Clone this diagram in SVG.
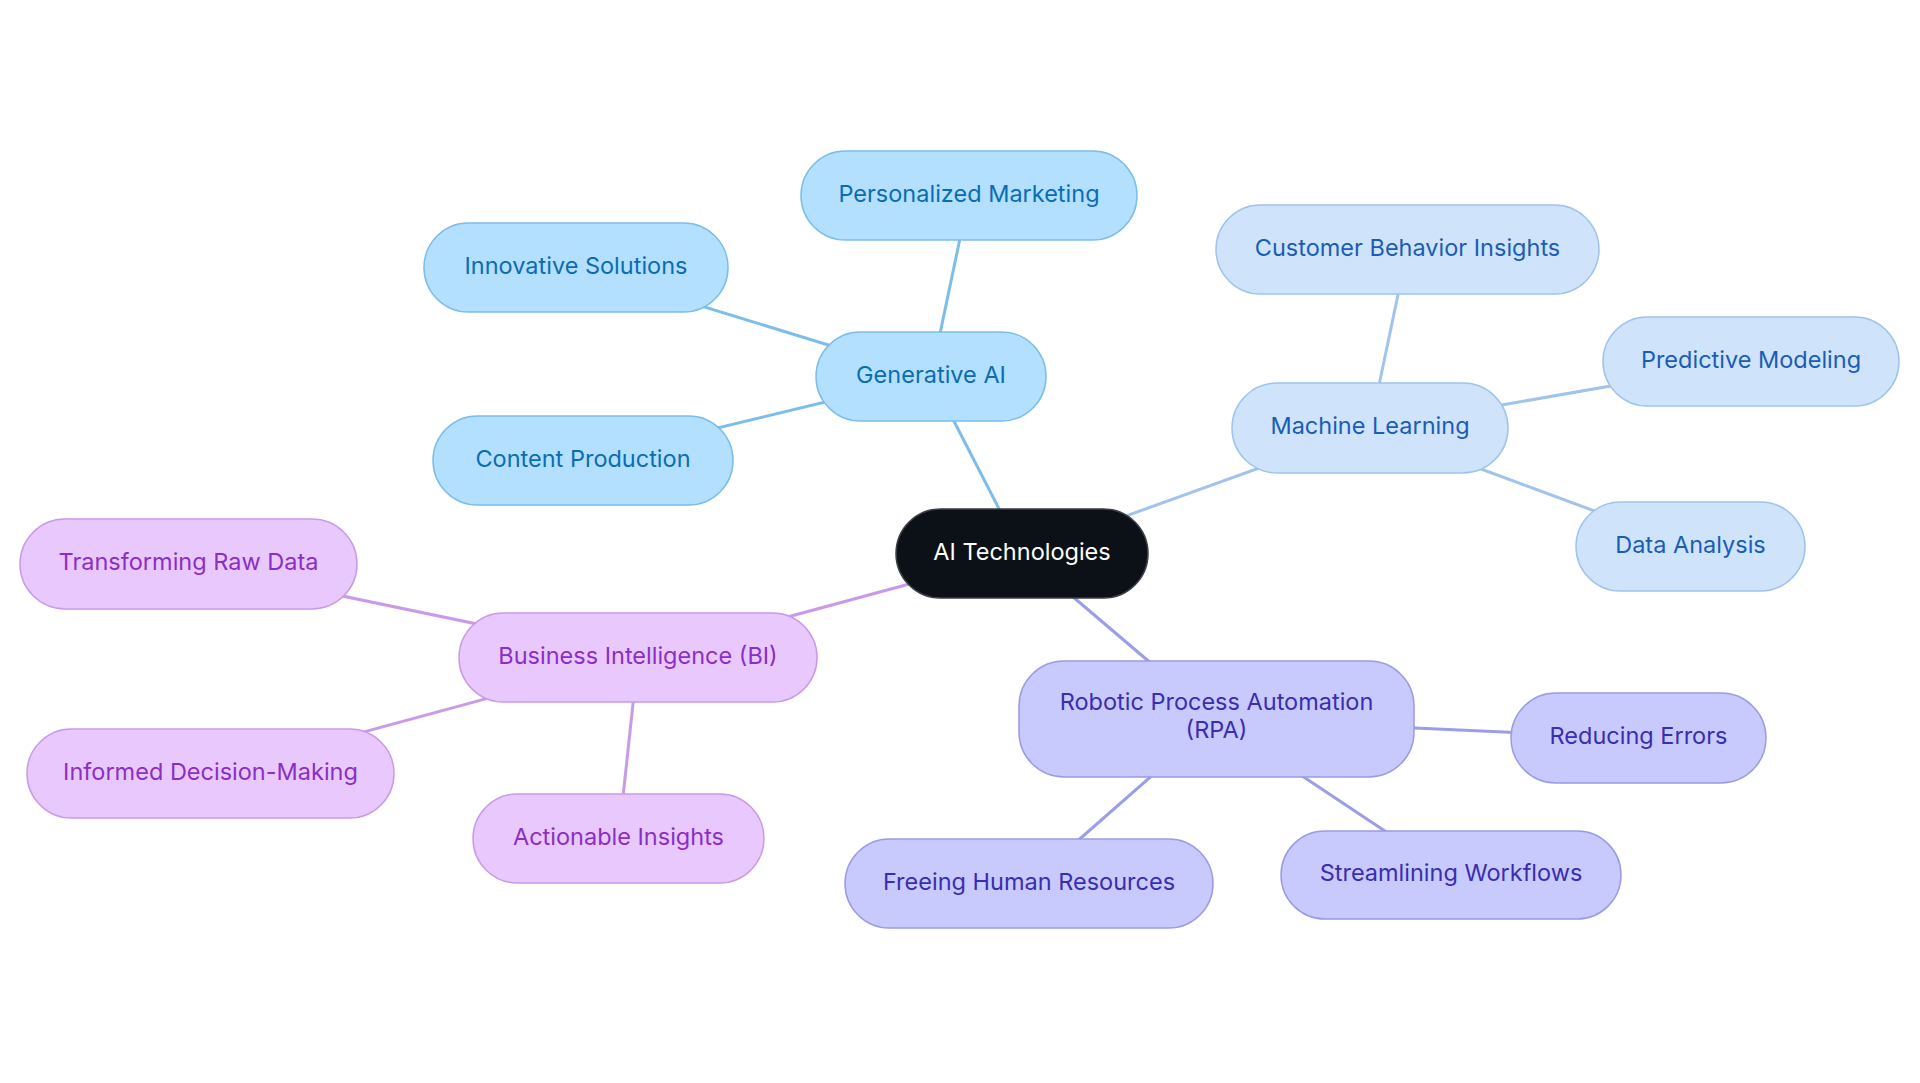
<svg xmlns="http://www.w3.org/2000/svg" width="1920" height="1083" viewBox="0 0 1920 1083">
<style>
text{font-family:Inter,"Open Sans","Liberation Sans",sans-serif;font-size:23.5px;text-anchor:middle;dominant-baseline:central}
.e{stroke-width:3;fill:none}
.gen rect{fill:#b3e0fe;stroke:#7cbdea;stroke-width:1.5}
.gen text{fill:#0b6cb3}
.ml rect{fill:#cfe4fb;stroke:#9ec4ec;stroke-width:1.5}
.ml text{fill:#1b5cb5}
.bi rect{fill:#e9c9fd;stroke:#c99ae9;stroke-width:1.5}
.bi text{fill:#8b2ec6}
.rpa rect{fill:#c8cafd;stroke:#9b9be6;stroke-width:1.5}
.rpa text{fill:#3a2db0}
</style>
<rect width="1920" height="1083" fill="#ffffff"/>
<g id="connectors">
<line class="e" stroke="#7cbdea" x1="1022" y1="553.5" x2="931" y2="376.5"/>
<line class="e" stroke="#a0c4ec" x1="1022" y1="553.5" x2="1370" y2="428"/>
<line class="e" stroke="#c99ae9" x1="1022" y1="553.5" x2="638" y2="657.5"/>
<line class="e" stroke="#9b9de8" x1="1022" y1="553.5" x2="1216.5" y2="719"/>
<line class="e" stroke="#7cbdea" x1="931" y1="376.5" x2="969" y2="195.5"/>
<line class="e" stroke="#7cbdea" x1="931" y1="376.5" x2="576" y2="267.5"/>
<line class="e" stroke="#7cbdea" x1="931" y1="376.5" x2="583" y2="460.5"/>
<line class="e" stroke="#a0c4ec" x1="1370" y1="428" x2="1407.5" y2="249.5"/>
<line class="e" stroke="#a0c4ec" x1="1370" y1="428" x2="1751" y2="361.5"/>
<line class="e" stroke="#a0c4ec" x1="1370" y1="428" x2="1690.5" y2="546.5"/>
<line class="e" stroke="#c99ae9" x1="638" y1="657.5" x2="188.5" y2="564"/>
<line class="e" stroke="#c99ae9" x1="638" y1="657.5" x2="210.5" y2="773.5"/>
<line class="e" stroke="#c99ae9" x1="638" y1="657.5" x2="618.5" y2="838.5"/>
<line class="e" stroke="#9b9de8" x1="1216.5" y1="719" x2="1638.5" y2="738"/>
<line class="e" stroke="#9b9de8" x1="1216.5" y1="719" x2="1029" y2="883.5"/>
<line class="e" stroke="#9b9de8" x1="1216.5" y1="719" x2="1451" y2="875"/>
</g>
<g id="ai-technologies">
<rect x="896" y="509" width="252" height="89" rx="44.5" fill="#0c1118" stroke="#3a3f46" stroke-width="1.5"/>
<text x="1022" y="551" fill="#ffffff">AI Technologies</text>
</g>
<g id="generative-ai" class="gen">
<rect x="816" y="332" width="230" height="89" rx="44.5"/>
<text x="931" y="374">Generative AI</text>
</g>
<g id="personalized-marketing" class="gen">
<rect x="801" y="151" width="336" height="89" rx="44.5"/>
<text x="969" y="193">Personalized Marketing</text>
</g>
<g id="innovative-solutions" class="gen">
<rect x="424" y="223" width="304" height="89" rx="44.5"/>
<text x="576" y="265">Innovative Solutions</text>
</g>
<g id="content-production" class="gen">
<rect x="433" y="416" width="300" height="89" rx="44.5"/>
<text x="583" y="458">Content Production</text>
</g>
<g id="machine-learning" class="ml">
<rect x="1232" y="383" width="276" height="90" rx="45"/>
<text x="1370" y="425.5">Machine Learning</text>
</g>
<g id="customer-behavior-insights" class="ml">
<rect x="1216" y="205" width="383" height="89" rx="44.5"/>
<text x="1407.5" y="247">Customer Behavior Insights</text>
</g>
<g id="predictive-modeling" class="ml">
<rect x="1603" y="317" width="296" height="89" rx="44.5"/>
<text x="1751" y="359">Predictive Modeling</text>
</g>
<g id="data-analysis" class="ml">
<rect x="1576" y="502" width="229" height="89" rx="44.5"/>
<text x="1690.5" y="544">Data Analysis</text>
</g>
<g id="business-intelligence" class="bi">
<rect x="459" y="613" width="358" height="89" rx="44.5"/>
<text x="638" y="655">Business Intelligence (BI)</text>
</g>
<g id="transforming-raw-data" class="bi">
<rect x="20" y="519" width="337" height="90" rx="45"/>
<text x="188.5" y="561.5">Transforming Raw Data</text>
</g>
<g id="informed-decision-making" class="bi">
<rect x="27" y="729" width="367" height="89" rx="44.5"/>
<text x="210.5" y="771">Informed Decision-Making</text>
</g>
<g id="actionable-insights" class="bi">
<rect x="473" y="794" width="291" height="89" rx="44.5"/>
<text x="618.5" y="836">Actionable Insights</text>
</g>
<g id="rpa" class="rpa">
<rect x="1019" y="661" width="395" height="116" rx="45"/>
<text x="1216.5" y="701">Robotic Process Automation</text>
<text x="1216.5" y="729">(RPA)</text>
</g>
<g id="reducing-errors" class="rpa">
<rect x="1511" y="693" width="255" height="90" rx="45"/>
<text x="1638.5" y="735.5">Reducing Errors</text>
</g>
<g id="freeing-human-resources" class="rpa">
<rect x="845" y="839" width="368" height="89" rx="44.5"/>
<text x="1029" y="881">Freeing Human Resources</text>
</g>
<g id="streamlining-workflows" class="rpa">
<rect x="1281" y="831" width="340" height="88" rx="44"/>
<text x="1451" y="872.5">Streamlining Workflows</text>
</g>
</svg>
